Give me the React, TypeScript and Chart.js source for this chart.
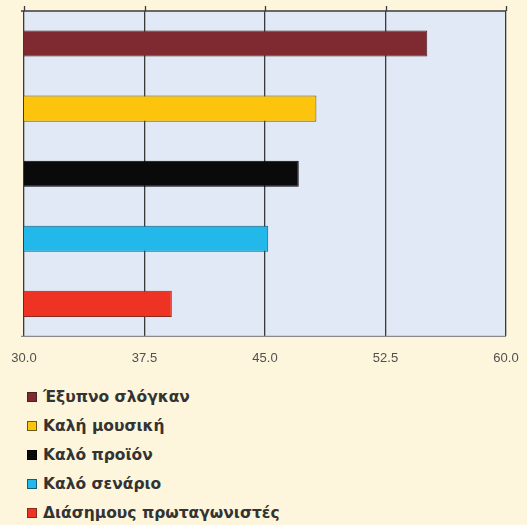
import React, { useEffect, useRef } from "react";
import { Chart, registerables } from "chart.js";

Chart.register(...registerables);

const categories = [
  "Έξυπνο σλόγκαν",
  "Καλή μουσική",
  "Καλό προϊόν",
  "Καλό σενάριο",
  "Διάσημους πρωταγωνιστές",
];
const values = [55.1, 48.2, 47.1, 45.2, 39.2];
const colors = ["#7e2a30", "#fcc40c", "#0a0a0a", "#22b8ea", "#ee3324"];
const borderColors = ["#4a2020", "#6a5a10", "#000000", "#1a5a70", "#8a2a1a"];
const xMin = 30;
const xMax = 60;
const xStep = 7.5;

const BG = "#fdf6dc";
const PLOT_BG = "#e2e9f6";

const framePlugin = {
  id: "frame",
  beforeDraw(chart: any) {
    const { ctx, chartArea } = chart;
    ctx.save();
    ctx.fillStyle = PLOT_BG;
    ctx.fillRect(chartArea.left, chartArea.top, chartArea.right - chartArea.left, chartArea.bottom - chartArea.top);
    ctx.restore();
  },
  afterDraw(chart: any) {
    const { ctx, chartArea } = chart;
    const xs = chart.scales.x;
    ctx.save();
    ctx.strokeStyle = "#3a3a3a";
    ctx.lineWidth = 1.3;
    ctx.beginPath();
    ctx.moveTo(chartArea.left - 3, chartArea.top);
    ctx.lineTo(chartArea.right, chartArea.top);
    ctx.stroke();
    for (let v = xMin; v <= xMax + 1e-9; v += xStep) {
      const px = Math.round(xs.getPixelForValue(v)) + 0.5;
      ctx.beginPath();
      ctx.moveTo(px, chartArea.top - 5);
      ctx.lineTo(px, chartArea.top);
      ctx.stroke();
    }
    ctx.strokeStyle = "#8a8a8a";
    ctx.beginPath();
    ctx.moveTo(chartArea.left - 3, chartArea.bottom);
    ctx.lineTo(chartArea.right, chartArea.bottom);
    ctx.stroke();
    ctx.restore();
  },
};

export default function App() {
  const ref = useRef<HTMLCanvasElement>(null);

  useEffect(() => {
    document.body.style.margin = "0";
    document.body.style.background = BG;
    const chart = new Chart(ref.current!, {
      type: "bar",
      data: {
        labels: categories,
        datasets: [
          {
            data: values,
            backgroundColor: colors,
            borderColor: borderColors,
            borderWidth: 1,
            borderSkipped: false,
            categoryPercentage: 1,
            barPercentage: 0.4,
          },
        ],
      },
      options: {
        indexAxis: "y",
        animation: false,
        responsive: false,
        maintainAspectRatio: false,
        layout: { padding: { left: 24, right: 21, top: 11, bottom: 0 } },
        plugins: {
          legend: { display: false },
          tooltip: { enabled: false },
        },
        scales: {
          x: {
            type: "linear",
            min: xMin,
            max: xMax,
            afterFit: (s: any) => {
              s.paddingLeft = 0;
              s.paddingRight = 0;
            },
            ticks: {
              stepSize: xStep,
              padding: 14,
              color: "#505050",
              font: { family: "Liberation Sans", size: 13 },
              callback: (v: any) => Number(v).toFixed(1),
            },
            grid: { color: "#3a3a3a", lineWidth: 1.3, drawTicks: false },
            border: { display: false },
          },
          y: {
            display: false,
          },
        },
      },
      plugins: [framePlugin],
    });
    return () => chart.destroy();
  }, []);

  return (
    <div style={{ background: BG, width: 527, height: 525, fontFamily: "DejaVu Sans" }}>
      <canvas ref={ref} width={527} height={380} style={{ display: "block" }} />
      <div style={{ paddingTop: 3, paddingLeft: 27 }}>
        {categories.map((c, i) => (
          <div key={c} style={{ display: "flex", alignItems: "center", height: 28.8 }}>
            <span
              style={{
                display: "inline-block",
                width: 10,
                height: 10,
                background: colors[i],
                border: `1px solid ${borderColors[i]}`,
                boxSizing: "border-box",
                marginRight: 6,
              }}
            />
            <span style={{ fontSize: 15.5, fontWeight: "bold", color: "#333" }}>{c}</span>
          </div>
        ))}
      </div>
    </div>
  );
}
